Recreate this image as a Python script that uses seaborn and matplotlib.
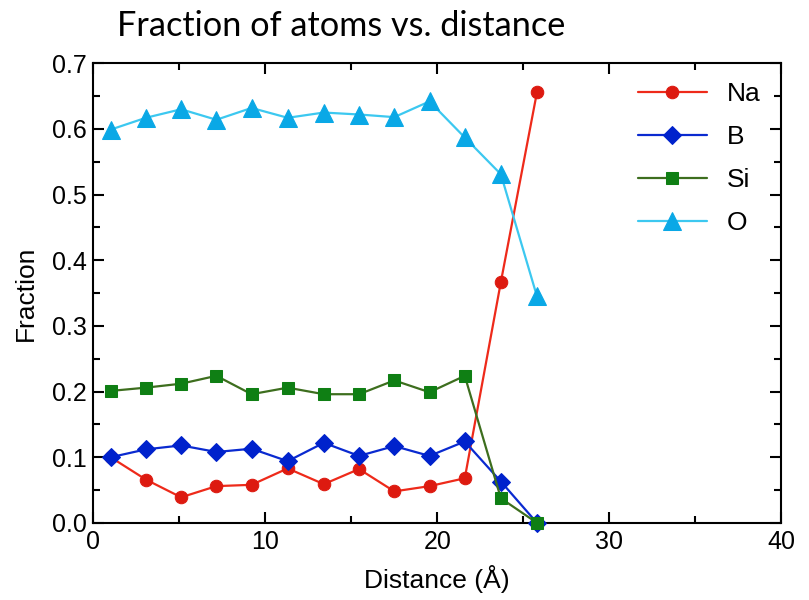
import numpy as np
import pandas as pd
import matplotlib
matplotlib.use("Agg")
import matplotlib.pyplot as plt
from matplotlib.ticker import MultipleLocator
import seaborn as sns

distance = [1.0, 3.05, 5.1, 7.15, 9.2, 11.3, 13.4, 15.45, 17.5, 19.55, 21.6, 23.7, 25.8]
na = [0.100, 0.066, 0.039, 0.056, 0.058, 0.083, 0.059, 0.082, 0.048, 0.056, 0.068, 0.367, 0.656]
b = [0.100, 0.112, 0.118, 0.108, 0.113, 0.094, 0.122, 0.102, 0.117, 0.102, 0.124, 0.063, 0.0]
si = [0.201, 0.206, 0.212, 0.224, 0.196, 0.206, 0.196, 0.196, 0.217, 0.199, 0.224, 0.0375, 0.0]
o = [0.599, 0.617, 0.630, 0.614, 0.632, 0.617, 0.625, 0.622, 0.618, 0.642, 0.587, 0.531, 0.345]

series_names = ["Na", "B", "Si", "O"]
series_vals = [na, b, si, o]

sns.set_style("ticks")
plt.rcParams['font.family'] = ['Liberation Sans', 'DejaVu Sans']
plt.rcParams['text.color'] = 'black'
plt.rcParams['axes.labelcolor'] = 'black'
plt.rcParams['xtick.color'] = 'black'
plt.rcParams['ytick.color'] = 'black'

fig = plt.figure(figsize=(8.09, 6.0), dpi=100)
ax = fig.add_axes([0.1155, 0.1285, 0.85, 0.766])

styles = {
    "Na": dict(color="#ee2a1a", marker="o", markersize=9, mfc="#dd1a10", mec="#dd1a10"),
    "B": dict(color="#0a2ad0", marker="D", markersize=9, mfc="#0022cc", mec="#0022cc"),
    "Si": dict(color="#3d6e1e", marker="s", markersize=8.5, mfc="#0f7f14", mec="#0f7f14"),
    "O": dict(color="#3cc8f0", marker="^", markersize=13, mfc="#0aa8e6", mec="#0aa8e6"),
}

for name, vals in zip(series_names, series_vals):
    df = pd.DataFrame({"Distance": distance, "Fraction": vals})
    st = styles[name]
    sns.lineplot(data=df, x="Distance", y="Fraction", ax=ax, label=name,
                 color=st["color"], marker=st["marker"], markersize=st["markersize"],
                 markerfacecolor=st["mfc"], markeredgecolor=st["mec"],
                 linewidth=1.6, clip_on=False, zorder=3)

ax.set_xlim(0, 40)
ax.set_ylim(0, 0.7)
ax.xaxis.set_major_locator(MultipleLocator(10))
ax.xaxis.set_minor_locator(MultipleLocator(5))
ax.yaxis.set_major_locator(MultipleLocator(0.1))
ax.yaxis.set_minor_locator(MultipleLocator(0.05))
ax.yaxis.set_major_formatter(matplotlib.ticker.FormatStrFormatter('%.1f'))
ax.tick_params(which='both', direction='in', top=True, right=True, labelsize=18, width=1.5, colors='black')
ax.tick_params(which='major', length=8, pad=5)
ax.tick_params(which='minor', length=5)
for sp in ax.spines.values():
    sp.set_linewidth(1.5)
    sp.set_color('black')

ax.set_xlabel("Distance (Å)", fontsize=19, labelpad=8)
ax.set_ylabel("Fraction", fontsize=19, labelpad=10)

leg = ax.legend(loc='upper left', frameon=False, fontsize=19, handlelength=2.6,
                labelspacing=0.72, borderpad=0, borderaxespad=0, handletextpad=0.75,
                bbox_to_anchor=(638 / 809, 1 - 82 / 600), bbox_transform=fig.transFigure)

fig.text(117 / 809, 1 - 36 / 600, "Fraction of atoms vs. distance", fontsize=24.7,
         family=['Lato', 'DejaVu Sans'], ha='left', va='baseline')

fig.savefig("out.png", dpi=100)
